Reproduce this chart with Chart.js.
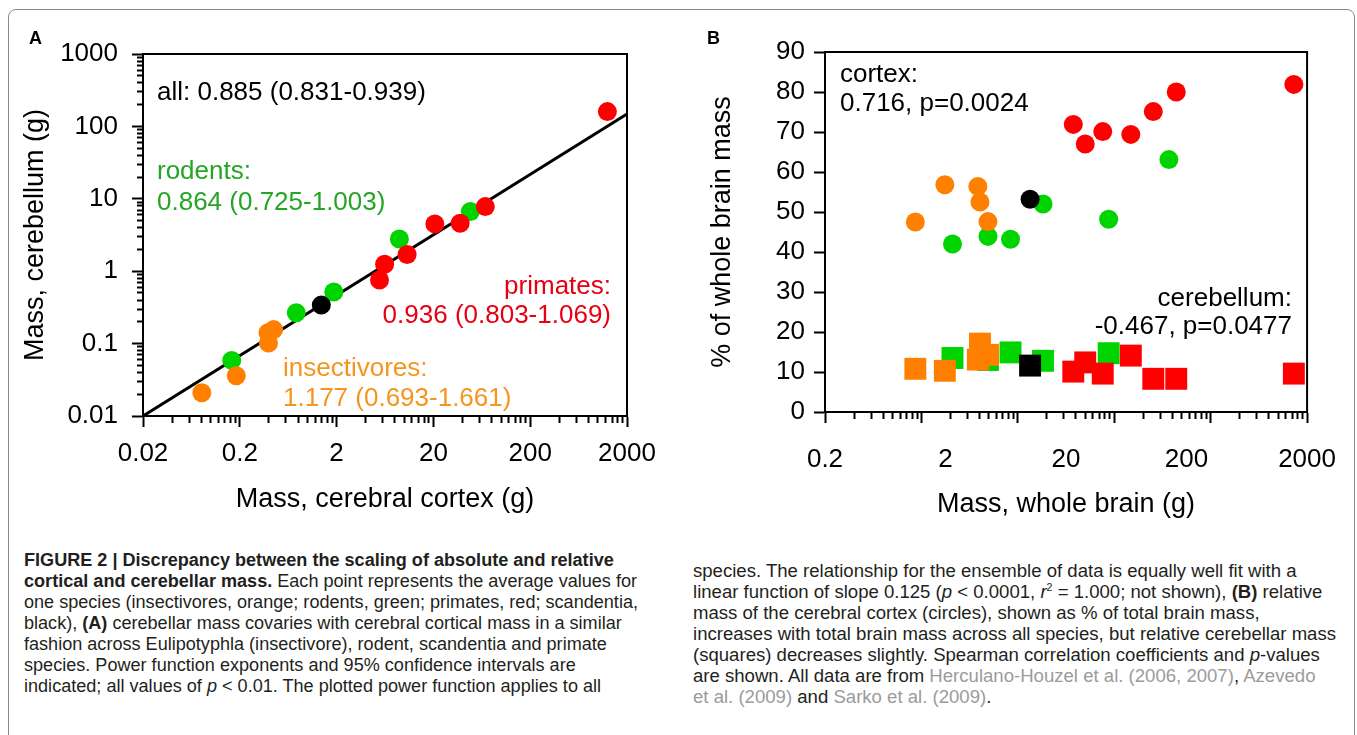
<!DOCTYPE html>
<html>
<head>
<meta charset="utf-8">
<script src="https://cdn.jsdelivr.net/npm/chart.js@4.4.1/dist/chart.umd.min.js"></script>
<style>
  body { margin: 0; width: 1357px; height: 735px; overflow: hidden; background: #fff; position: relative;
         font-family: "Liberation Sans", Arial, sans-serif; }
  #frame { position: absolute; left: 8px; top: 9px; width: 1345px; height: 790px; border: 1px solid #8a8a8a; border-radius: 8px; }
  .box { position: absolute; top: 0; height: 540px; }
  .note { position: absolute; font-size: 26px; line-height: 26px; white-space: nowrap; }
  .panel { position: absolute; font-weight: bold; font-size: 18px; line-height: 18px; }
  .cap { position: absolute; font-family: "Liberation Sans Narrow", "Liberation Sans", sans-serif; font-size: 17.5px;
         line-height: 21px; color: #231f20; transform-origin: 0 0; }
  .cap span.ln { display: block; width: max-content; white-space: nowrap; }
  .ref { color: #9b9b9b; }
</style>
</head>
<body>
<div id="frame"></div>
<div class="box" style="left:0;width:680px"><canvas id="graficoA"></canvas></div>
<div class="box" style="left:680px;width:677px"><canvas id="graficoB"></canvas></div>

<div class="panel" style="left:29px;top:29px">A</div>
<div class="panel" style="left:707px;top:29px">B</div>

<div class="note" style="left:157px;top:78px;color:#000">all: 0.885 (0.831-0.939)</div>
<div class="note" style="left:157px;top:157px;color:#25a525">rodents:</div>
<div class="note" style="left:157px;top:188px;color:#25a525">0.864 (0.725-1.003)</div>
<div class="note" style="right:746px;top:272px;color:#e60012">primates:</div>
<div class="note" style="right:746px;top:301px;color:#e60012">0.936 (0.803-1.069)</div>
<div class="note" style="left:283px;top:354px;color:#f7941e">insectivores:</div>
<div class="note" style="left:283px;top:384px;color:#f7941e">1.177 (0.693-1.661)</div>

<div class="note" style="left:840px;top:60px;color:#000">cortex:</div>
<div class="note" style="left:840px;top:89px;color:#000">0.716, p=0.0024</div>
<div class="note" style="right:65px;top:284px;color:#000">cerebellum:</div>
<div class="note" style="right:65px;top:312px;color:#000">-0.467, p=0.0477</div>

<div class="cap" id="capEsq" style="left:24px;top:550px">
  <span class="ln"><b>FIGURE 2 | Discrepancy between the scaling of absolute and relative</b></span>
  <span class="ln"><b>cortical and cerebellar mass.</b> Each point represents the average values for</span>
  <span class="ln">one species (insectivores, orange; rodents, green; primates, red; scandentia,</span>
  <span class="ln">black), <b>(A)</b> cerebellar mass covaries with cerebral cortical mass in a similar</span>
  <span class="ln">fashion across Eulipotyphla (insectivore), rodent, scandentia and primate</span>
  <span class="ln">species. Power function exponents and 95% confidence intervals are</span>
  <span class="ln">indicated; all values of <i>p</i> &lt; 0.01. The plotted power function applies to all</span>
</div>
<div class="cap" id="capDir" style="left:693px;top:561px">
  <span class="ln">species. The relationship for the ensemble of data is equally well fit with a</span>
  <span class="ln">linear function of slope 0.125 (<i>p</i> &lt; 0.0001, <i>r</i><sup style="font-size:10px;line-height:0">2</sup> = 1.000; not shown), <b>(B)</b> relative</span>
  <span class="ln">mass of the cerebral cortex (circles), shown as % of total brain mass,</span>
  <span class="ln">increases with total brain mass across all species, but relative cerebellar mass</span>
  <span class="ln">(squares) decreases slightly. Spearman correlation coefficients and <i>p</i>-values</span>
  <span class="ln">are shown. All data are from <span class="ref">Herculano-Houzel et al. (2006, 2007)</span>, <span class="ref">Azevedo</span></span>
  <span class="ln"><span class="ref">et al. (2009)</span> and <span class="ref">Sarko et al. (2009)</span>.</span>
</div>

<script>
// eixos (rótulos dos ticks)
const cortexTicksA = ['0.02', '0.2', '2', '20', '200', '2000'];
const cerebTicksA = ['0.01', '0.1', '1', '10', '100', '1000'];
const brainDecadesB = ['0.02', '0.2', '2', '20', '200', '2000'];
const brainLabelsB = ['0.2', '2', '20', '200', '2000'];

// A: [cortex (g), cerebellum (g)]
const insectA = [[0.081, 0.021], [0.184, 0.036], [0.396, 0.102], [0.391, 0.141], [0.447, 0.156]];
const rodentA = [[0.165, 0.0586], [0.766, 0.267], [1.87, 0.516], [8.9, 2.78], [48.2, 6.66]];
const primateA = [[5.55, 0.757], [6.27, 1.25], [10.7, 1.7], [20.7, 4.5], [37.8, 4.6], [68.7, 7.8], [1254, 160]];
const scandA = [[1.39, 0.34]];
const fitLineA = [[0.02, 0.01], [2000, 148]];

// B: [whole brain (g), % cortex]
const insectCortexB = [[0.173, 47.5], [0.35, 56.8], [0.77, 56.4], [0.81, 52.5], [0.98, 47.6]];
const rodentCortexB = [[0.42, 42.0], [0.98, 43.9], [1.68, 43.2], [3.65, 52.0], [17.5, 48.2], [73.8, 63.1]];
const primateCortexB = [[7.52, 71.9], [10.0, 67.0], [15.2, 70.1], [29.7, 69.4], [50.8, 75.1], [87.9, 80.0], [1458, 81.9]];
const scandCortexB = [[2.68, 53.2]];
// B: [whole brain (g), % cerebellum]
const insectCerebB = [[0.173, 10.8], [0.35, 10.3], [0.81, 17.1], [0.77, 13.1], [0.98, 14.3]];
const rodentCerebB = [[0.42, 13.5], [0.98, 13.0], [1.68, 14.9], [3.65, 12.8], [17.5, 14.7]];
const primateCerebB = [[7.52, 10.1], [10.0, 12.4], [15.2, 9.6], [29.7, 14.1], [50.8, 8.3], [87.9, 8.3], [1458, 9.6]];
const scandCerebB = [[2.68, 11.6]];

const VERMELHO = '#ff0000', VERDE = '#00d400', LARANJA = '#ff8000', PRETO = '#000000';

Chart.defaults.font.family = '"Liberation Sans", Arial, sans-serif';
Chart.defaults.font.size = 26;
Chart.defaults.color = '#000';

function pontos(lista) {
    return lista.map(p => ({ x: p[0], y: p[1] }));
}

// ticks log: decadas "majors" + multiplos 2..9 como menores
function ticksLog(rotulos) {
    const majors = rotulos.map(parseFloat);
    const ticks = [];
    for (let i = 0; i < majors.length - 1; i++) {
        for (let m = 1; m <= 9; m++) {
            ticks.push({ value: parseFloat((majors[i] * m).toPrecision(6)), major: m === 1 });
        }
    }
    ticks.push({ value: majors[majors.length - 1], major: true });
    return ticks;
}

function rotuloLog(rotulos) {
    return (val, i, ticks) => {
        if (!ticks[i].major) return '';
        const r = rotulos.find(t => Math.abs(parseFloat(t) - val) / val < 1e-6);
        return r || '';
    };
}

const molduraPlugin = {
    id: 'moldura',
    afterDraw(chart) {
        const { ctx, chartArea: a } = chart;
        ctx.save();
        ctx.strokeStyle = '#000';
        ctx.lineWidth = 2;
        ctx.strokeRect(a.left, a.top, a.right - a.left, a.bottom - a.top);
        ctx.restore();
    }
};

function dataset(lista, cor, estilo, raio, ordem) {
    return {
        data: pontos(lista),
        backgroundColor: cor,
        borderWidth: 0,
        pointStyle: estilo,
        pointRadius: raio,
        pointHoverRadius: raio,
        order: ordem
    };
}

const gradeX = {
    drawOnChartArea: false, tickLength: 11, tickWidth: 2, tickColor: '#000',
    tickBorderDash: c => (c.tick && c.tick.major) ? [] : [6, 30]
};
const gradeYLog = {
    drawOnChartArea: false, tickLength: 11, tickWidth: 2, tickColor: '#000',
    tickBorderDash: c => (c.tick && c.tick.major) ? [] : [0, 5, 6, 30]
};

const graficoA = new Chart(document.getElementById('graficoA'), {
    type: 'scatter',
    data: {
        datasets: [
            dataset(scandA, PRETO, 'circle', 9.5, 1),
            dataset(insectA, LARANJA, 'circle', 9.5, 2),
            dataset(primateA, VERMELHO, 'circle', 9.5, 3),
            dataset(rodentA, VERDE, 'circle', 9.5, 4),
            {
                type: 'line',
                data: pontos(fitLineA),
                borderColor: '#000',
                borderWidth: 3,
                pointRadius: 0,
                order: 10
            }
        ]
    },
    options: {
        responsive: true,
        maintainAspectRatio: false,
        animation: false,
        layout: { padding: { top: 54, right: 53, left: 0, bottom: 0 } },
        plugins: { legend: { display: false }, tooltip: { enabled: false } },
        scales: {
            x: {
                type: 'logarithmic', min: 0.02, max: 2000,
                afterBuildTicks: s => { s.ticks = ticksLog(cortexTicksA); },
                afterFit: s => { s.height = 124; },
                ticks: { autoSkip: false, maxRotation: 0, padding: 11, callback: rotuloLog(cortexTicksA) },
                grid: gradeX,
                border: { color: '#000', width: 2 },
                title: { display: true, text: 'Mass, cerebral cortex (g)', font: { size: 27 }, padding: { top: 0, bottom: 24 } }
            },
            y: {
                type: 'logarithmic', min: 0.01, max: 1000,
                afterBuildTicks: s => { s.ticks = ticksLog(cerebTicksA); },
                afterFit: s => { s.width = 143; },
                ticks: { autoSkip: false, padding: 14, callback: rotuloLog(cerebTicksA) },
                grid: gradeYLog,
                border: { color: '#000', width: 2 },
                title: { display: true, text: 'Mass, cerebellum (g)', font: { size: 27 }, padding: { top: 19, bottom: 0 } }
            }
        }
    },
    plugins: [molduraPlugin]
});

const graficoB = new Chart(document.getElementById('graficoB'), {
    type: 'scatter',
    data: {
        datasets: [
            dataset(scandCortexB, PRETO, 'circle', 9.5, 1),
            dataset(insectCortexB, LARANJA, 'circle', 9.5, 2),
            dataset(primateCortexB, VERMELHO, 'circle', 9.5, 3),
            dataset(rodentCortexB, VERDE, 'circle', 9.5, 4),
            dataset(scandCerebB, PRETO, 'rect', 15.5, 5),
            dataset(insectCerebB, LARANJA, 'rect', 15.5, 6),
            dataset(primateCerebB, VERMELHO, 'rect', 15.5, 7),
            dataset(rodentCerebB, VERDE, 'rect', 15.5, 8)
        ]
    },
    options: {
        responsive: true,
        maintainAspectRatio: false,
        animation: false,
        layout: { padding: { top: 52, right: 45, left: 0, bottom: 0 } },
        plugins: { legend: { display: false }, tooltip: { enabled: false } },
        scales: {
            x: {
                type: 'logarithmic', min: 0.02, max: 2000, weight: 0,
                afterBuildTicks: s => { s.ticks = ticksLog(brainDecadesB); },
                afterFit: s => { s.height = 11; },
                ticks: { display: false, autoSkip: false },
                grid: gradeX,
                border: { color: '#000', width: 2 }
            },
            xl: {
                type: 'linear', axis: 'x', position: 'bottom', min: 0, max: brainLabelsB.length - 1, weight: 1,
                afterFit: s => { s.height = 117; },
                ticks: { stepSize: 1, autoSkip: false, maxRotation: 0, padding: 21, callback: v => brainLabelsB[v] },
                grid: { display: false, drawTicks: false },
                border: { display: false },
                title: { display: true, text: 'Mass, whole brain (g)', font: { size: 27 }, padding: { top: 0, bottom: 19 } }
            },
            y: {
                min: 0, max: 90,
                afterFit: s => { s.width = 145; },
                ticks: { stepSize: 10, padding: 9 },
                grid: { drawOnChartArea: false, tickLength: 11, tickWidth: 2, tickColor: '#000' },
                border: { color: '#000', width: 2 },
                title: { display: true, text: '% of whole brain mass', font: { size: 27 }, padding: { top: 26, bottom: 0 } }
            }
        }
    },
    plugins: [molduraPlugin]
});

// legenda: comprime o texto para caber na coluna
function ajustarLegenda(id, primeira, maxima) {
    const el = document.getElementById(id);
    const linhas = [...el.querySelectorAll(':scope > .ln')];
    const w1 = linhas[0].getBoundingClientRect().width;
    const wMax = Math.max(...linhas.map(l => l.getBoundingClientRect().width));
    el.style.transform = 'scaleX(' + Math.min(primeira / w1, maxima / wMax) + ')';
}
ajustarLegenda('capEsq', 596, 614);
ajustarLegenda('capDir', 638, 643);
</script>
</body>
</html>
